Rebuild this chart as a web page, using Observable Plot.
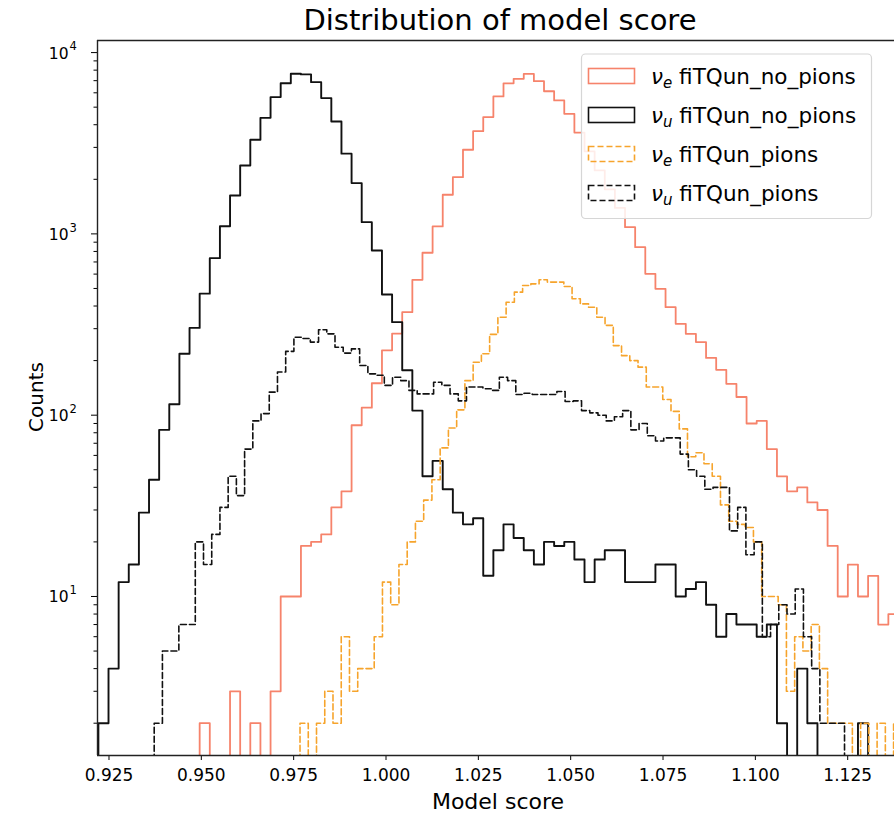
<!DOCTYPE html>
<html>
<head>
<meta charset="utf-8">
<script src="https://cdn.jsdelivr.net/npm/d3@7"></script>
<script src="https://cdn.jsdelivr.net/npm/@observablehq/plot@0.6"></script>
<style>
html, body { margin: 0; padding: 0; background: #fff; overflow: hidden; }
#chart { position: relative; width: 894px; height: 816px; }
</style>
</head>
<body>
<div id="chart"></div>
<script>
// ---------- DATA ----------
// Shared binning of the two "no_pions" histograms
const noPionsBinStart = 0.92213;
const noPionsBinWidth = 0.002742;
// nu_u fiTQun_no_pions (starts at bin 0)
const nuUNoPionsCounts = [2, 4, 12, 15, 29, 44, 83, 115, 218, 303, 468, 735, 1102, 1629, 2385, 3304, 4365, 5680, 6780, 7640,
  7580, 6870, 5610, 4170, 2770, 1906, 1161, 809, 463, 326, 177, 106, 46, 56, 39, 29, 25, 27, 13, 18,
  25, 21, 18, 15, 20, 19, 20, 16, 12, 16, 18, 18, 12, 12, 12, 15, 15, 10, 11, 12,
  9, 6, 8, 7, 7, 6, 7, 2, 0, 4, 2, 0, 0, 0, 0, 2, 0];
// nu_e fiTQun_no_pions (starts at bin 10 of the shared grid)
const nuENoPionsFirstBin = 10;
const nuENoPionsCounts = [2, 0, 0, 3, 0, 2, 0, 3, 10, 10, 19, 20, 22, 31, 38, 88, 110, 150, 228, 282,
  370, 558, 787, 1099, 1644, 2056, 2912, 3687, 4406, 5730, 6770, 7165, 7635, 6955, 6120, 5445, 4595, 3620, 2850, 2240,
  1760, 1390, 1089, 845, 602, 498, 394, 319, 281, 253, 207, 178, 149, 126, 90, 93, 65, 46, 38, 40,
  33, 30, 19, 10, 15, 10, 13, 7, 8, 8];
// nu_u fiTQun_pions
const nuUPionsBinStart = 0.93724;
const nuUPionsBinWidth = 0.002225;
const nuUPionsCounts = [2, 5, 5, 7, 7, 20, 15, 22, 31, 46, 36, 65, 93, 102, 134, 173, 225, 269, 265, 253,
  296, 281, 237, 220, 232, 188, 169, 166, 146, 162, 155, 137, 131, 131, 152, 146, 131, 120, 143, 143,
  140, 137, 162, 155, 130, 132, 130, 130, 130, 135, 119, 120, 106, 103, 100, 93, 98, 106, 83, 90,
  77, 72, 75, 75, 61, 50, 46, 39, 40, 40, 23, 31, 17, 20, 6, 7, 9, 8, 11, 6,
  4, 2, 2, 2, 0];
// nu_e fiTQun_pions
const nuEPionsBinStart = 0.97672;
const nuEPionsBinWidth = 0.002232;
const nuEPionsCounts = [2, 0, 2, 3, 2, 6, 3, 4, 4, 6, 12, 9, 15, 20, 26, 34, 44, 66, 85, 107,
  155, 196, 218, 279, 347, 420, 477, 519, 530, 558, 542, 542, 513, 439, 411, 394, 347, 313, 242, 213,
  200, 184, 143, 143, 122, 105, 84, 59, 62, 54, 46, 32, 26, 25, 24, 20, 10, 10, 9, 3,
  6, 5, 7, 4, 2, 2, 2, 0, 2, 0, 2, 0, 2];

const xTickValues = [0.925, 0.95, 0.975, 1.0, 1.025, 1.05, 1.075, 1.1, 1.125];
const xTickLabels = ["0.925", "0.950", "0.975", "1.000", "1.025", "1.050", "1.075", "1.100", "1.125"];
const yTickValues = [10, 100, 1000, 10000];
const yTickBase = ["10", "10", "10", "10"];
const yTickExp = ["1", "2", "3", "4"];
const yMinorTickValues = [2,3,4,5,6,7,8,9,20,30,40,50,60,70,80,90,200,300,400,500,600,700,800,900,2000,3000,4000,5000,6000,7000,8000,9000];
const xDomain = [0.92189, 1.13767];
const yDomain = [1.327, 11659];

const titleText = "Distribution of model score";
const xLabelText = "Model score";
const yLabelText = "Counts";
const legendSymbols = ["ν", "ν", "ν", "ν"];
const legendSubs = ["e", "u", "e", "u"];
const legendNames = [" fiTQun_no_pions", " fiTQun_no_pions", " fiTQun_pions", " fiTQun_pions"];

// ---------- STYLE ----------
const colENo = "#f6836b";
const colUNo = "#111111";
const colEPi = "#f6a42c";
const colUPi = "#111111";
const dash = "6,3";
const FLOOR = 0.5;

function steps(start, width, counts) {
  const pts = [{x: start, y: FLOOR}];
  counts.forEach((c, i) => pts.push({x: start + i * width, y: Math.max(c, FLOOR)}));
  const end = start + counts.length * width;
  pts.push({x: end, y: Math.max(counts[counts.length - 1], FLOOR)});
  pts.push({x: end, y: FLOOR});
  return pts;
}

const sENo = steps(noPionsBinStart + nuENoPionsFirstBin * noPionsBinWidth, noPionsBinWidth, nuENoPionsCounts);
const sUNo = steps(noPionsBinStart, noPionsBinWidth, nuUNoPionsCounts);
const sEPi = steps(nuEPionsBinStart, nuEPionsBinWidth, nuEPionsCounts);
const sUPi = steps(nuUPionsBinStart, nuUPionsBinWidth, nuUPionsCounts);

const svg = Plot.plot({
  width: 894,
  height: 816,
  marginLeft: 97,
  marginRight: 0,
  marginTop: 40,
  marginBottom: 61,
  style: {fontFamily: "DejaVu Sans", color: "#000", background: "#fff", overflow: "hidden"},
  x: {domain: xDomain},
  y: {type: "log", domain: yDomain},
  marks: [
    Plot.lineY(sENo, {x: "x", y: "y", curve: "step-after", stroke: colENo, strokeWidth: 1.8, clip: true}),
    Plot.lineY(sUNo, {x: "x", y: "y", curve: "step-after", stroke: colUNo, strokeWidth: 1.9, clip: true}),
    Plot.lineY(sEPi, {x: "x", y: "y", curve: "step-after", stroke: colEPi, strokeWidth: 1.6, strokeDasharray: dash, clip: true}),
    Plot.lineY(sUPi, {x: "x", y: "y", curve: "step-after", stroke: colUPi, strokeWidth: 1.6, strokeDasharray: dash, clip: true}),
    Plot.axisX(xTickValues, {tickFormat: d => xTickLabels[xTickValues.indexOf(d)], tickSize: 5, tickPadding: 8, fontSize: 17, label: null}),
    Plot.axisY(yTickValues, {tickFormat: () => "", tickSize: 6, label: null}),
    Plot.text(yTickValues, {x: xDomain[0], y: d => d, text: d => yTickBase[yTickValues.indexOf(d)], textAnchor: "end", dx: -29, dy: 1, fontSize: 15.5, clip: false}),
    Plot.text(yTickValues, {x: xDomain[0], y: d => d, text: d => yTickExp[yTickValues.indexOf(d)], textAnchor: "start", dx: -28, dy: -6, fontSize: 11.5, clip: false}),
    Plot.axisY(yMinorTickValues, {tickFormat: () => "", tickSize: 3.5, label: null}),
    Plot.ruleX([xDomain[0]], {stroke: "#222", strokeWidth: 1.4}),
    Plot.ruleY([yDomain[0], yDomain[1]], {stroke: "#222", strokeWidth: 1.4})
  ]
});
document.getElementById("chart").appendChild(svg);

// ---------- TEXT & LEGEND ----------
const s = d3.select(svg);
s.append("text").attr("x", 500).attr("y", 30).attr("text-anchor", "middle")
  .attr("font-family", "DejaVu Sans").attr("font-size", 29).attr("fill", "#000").text(titleText);
s.append("text").attr("x", 498).attr("y", 809).attr("text-anchor", "middle")
  .attr("font-family", "DejaVu Sans").attr("font-size", 22).attr("fill", "#000").text(xLabelText);
s.append("text").attr("transform", "translate(43,397) rotate(-90)").attr("text-anchor", "middle")
  .attr("font-family", "DejaVu Sans").attr("font-size", 20).attr("fill", "#000").text(yLabelText);

const lg = s.append("g").attr("font-family", "DejaVu Sans").attr("font-size", 21.5).attr("text-anchor", "start");
lg.append("rect").attr("x", 581.5).attr("y", 54).attr("width", 290).attr("height", 164.5)
  .attr("rx", 4).attr("fill", "#fff").attr("fill-opacity", 0.85).attr("stroke", "#d6d6d6").attr("stroke-width", 1.2);
const legendStroke = [colENo, colUNo, colEPi, colUPi];
const legendDash = [null, null, dash, dash];
const rowY = [76, 115, 154, 193];
for (let i = 0; i < 4; i++) {
  const r = lg.append("rect").attr("x", 588.5).attr("y", rowY[i] - 7.5).attr("width", 46).attr("height", 15)
    .attr("fill", "none").attr("stroke", legendStroke[i]).attr("stroke-width", 1.6);
  if (legendDash[i]) r.attr("stroke-dasharray", legendDash[i]);
  const t = lg.append("text").attr("x", 651).attr("y", rowY[i] + 7.5).attr("fill", "#000").attr("text-anchor", "start");
  t.append("tspan").attr("font-style", "italic").text(legendSymbols[i]);
  t.append("tspan").attr("font-style", "italic").attr("font-size", 15).attr("dy", 4).text(legendSubs[i]);
  t.append("tspan").attr("dy", -4).text(legendNames[i]);
}
</script>
</body>
</html>
